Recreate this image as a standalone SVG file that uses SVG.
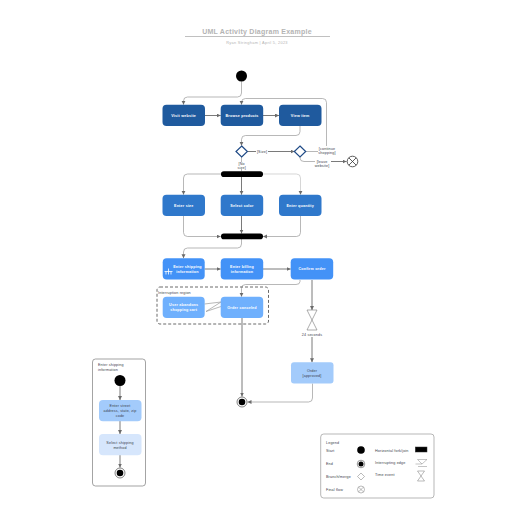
<svg xmlns="http://www.w3.org/2000/svg" width="516" height="516" viewBox="0 0 516 516">
<style>
text{font-family:"Liberation Sans",Arial,sans-serif;text-anchor:middle}
.t{font-size:3.700px;fill:#fff;font-weight:bold;letter-spacing:.2px}
.l{font-size:3.700px;fill:#3a414a;letter-spacing:.15px}
.ls{font-size:3.700px;fill:#3a414a;text-anchor:start;letter-spacing:.15px}
.c{fill:none;stroke:#6b6b6b;stroke-width:.9;marker-end:url(#a)}
.p{fill:none;stroke:#9a9a9a;stroke-width:.7;marker-end:url(#a)}
.lc{fill:none;stroke:#9a9a9a;stroke-width:.7}
.d1{fill:#1f5a9e}.d2{fill:#2f78cb}.d3{fill:#4392f7}.d4{fill:#6fb0fd}.d5{fill:#a3cbfb}.d6{fill:#d6e6fc}
</style>
<defs><marker id="a" markerUnits="userSpaceOnUse" markerWidth="5" markerHeight="5" refX="4" refY="2" orient="auto"><path d="M0 0L4 2L0 4Z" fill="#6b6b6b"/></marker></defs>
<text x="257" y="34" style="font-size:7px;fill:#b4b4b4;font-weight:bold;letter-spacing:.25px">UML Activity Diagram Example</text>
<path d="M185 36.500H330" stroke="#b0b0b0" stroke-width=".8"/>
<text x="257" y="43.500" style="font-size:3.900px;fill:#b4b4b4;letter-spacing:.3px">Ryan Stringham  |  April 5, 2023</text>
<g id="connectors">
<path class="p" d="M241.500 81.500V93Q241.500 97 237.500 97H187.500Q183.500 97 183.500 101V104.700"/>
<path class="c" d="M205 115.500H220.700"/>
<path class="c" d="M263 115.500H279"/>
<path class="p" d="M300 126V131.500Q300 135.500 296 135.500H245.500Q241.500 135.500 241.500 139.500V145.700"/>
<path class="c" d="M247.500 151.500H294.500"/>
<path class="lc" d="M306 151.500H326.500"/>
<path class="p" d="M326.500 146V102.500Q326.500 98.500 322.500 98.500H245.500Q241.500 98.500 241.500 102.500V104.700"/>
<path class="lc" d="M300 157V158Q300 161.500 304 161.500H315"/>
<path class="c" d="M331 161.500H346.500"/>
<path class="lc" d="M241.500 157V162"/>
<path class="lc" d="M241.500 169V171.300"/>
<path class="p" d="M221 174H187.500Q183.500 174 183.500 178V194.700"/>
<path class="c" d="M241.500 177V194.700"/>
<path class="p" d="M263 174H296.500Q300.500 174 300.500 178V194.700" style="stroke:#c4c4c4"/>
<path class="p" d="M183.500 216V232.500Q183.500 236.500 187.500 236.500H220.700"/>
<path class="c" d="M241.500 216V233.500"/>
<path class="p" d="M300.500 216V232.500Q300.500 236.500 296.500 236.500H263"/>
<path class="p" d="M241.500 239V244Q241.500 248 237.500 248H187.500Q183.500 248 183.500 252V258.300"/>
<path class="c" d="M204.500 269H220.700"/>
<path class="c" d="M263 269H290.700"/>
<path class="p" d="M300 280V281.500Q300 284.500 296 284.500H245.500Q241.500 284.500 241.500 288.500V296.700"/>
<path class="c" d="M312 280V310"/>
<path class="c" d="M312 337V362.300"/>
<path class="c" d="M242 318V396.500"/>
<path class="p" d="M312.500 383.500V398Q312.500 402 308.500 402H247.500"/>
<path class="lc" d="M204.500 304L221 302L206 311.500L221 306.500"/>
<path class="c" d="M120 386V400"/>
<path class="c" d="M120 421V434"/>
<path class="c" d="M120 455V467.500"/>
</g>
<g id="start"><circle cx="241.500" cy="76" r="5.500"/></g>
<g id="visit"><rect class="d1" x="162.500" y="104.700" width="42.500" height="21.300" rx="4"/><text class="t" x="183.700" y="116.700">Visit website</text></g>
<g id="browse"><rect class="d1" x="220.700" y="104.700" width="42.500" height="21.300" rx="4"/><text class="t" x="242" y="116.700">Browse products</text></g>
<g id="view"><rect class="d1" x="279" y="104.700" width="42.500" height="21.300" rx="4"/><text class="t" x="300.200" y="116.700">View item</text></g>
<g id="branch1"><path d="M241.700 146L247.400 151.500L241.700 157L236 151.500Z" fill="#fff" stroke="#1f4a86" stroke-width="1.200"/><text class="l" x="241.700" y="164.500">[No</text><text class="l" x="241.700" y="169">size]</text></g>
<g id="branch2"><path d="M300 146L305.700 151.500L300 157L294.300 151.500Z" fill="#fff" stroke="#1f4a86" stroke-width="1.200"/></g>
<rect x="256" y="149" width="12" height="5" fill="#fff"/><text class="l" x="262" y="152.800">[Size]</text>
<rect x="318" y="146.500" width="17" height="9" fill="#fff"/><text class="l" x="327" y="149.800">[continue</text><text class="l" x="327" y="154">shopping]</text>
<text class="l" x="322" y="163">[leave</text><text class="l" x="322" y="167.300">website]</text>
<g id="flowfinal"><circle cx="352.500" cy="161.500" r="5.300" fill="#fff" stroke="#333" stroke-width=".8"/><path d="M348.800 157.800L356.200 165.200M356.200 157.800L348.800 165.200" stroke="#333" stroke-width=".8"/></g>
<g id="fork"><rect x="221" y="171.300" width="42" height="5.700" rx="2.800"/></g>
<g id="size"><rect class="d2" x="162.500" y="194.700" width="42.500" height="21.300" rx="4"/><text class="t" x="183.700" y="206.700">Enter size</text></g>
<g id="color"><rect class="d2" x="220.700" y="194.700" width="42.500" height="21.300" rx="4"/><text class="t" x="242" y="206.700">Select color</text></g>
<g id="quantity"><rect class="d2" x="279" y="194.700" width="42.500" height="21.300" rx="4"/><text class="t" x="300.200" y="206.700">Enter quantity</text></g>
<g id="join"><rect x="221" y="233.500" width="42" height="5.700" rx="2.800"/></g>
<g id="shipping"><rect class="d3" x="162.700" y="258.300" width="42" height="21.300" rx="4"/><text class="t" x="187.500" y="268">Enter shipping</text><text class="t" x="187.500" y="273">information</text><path d="M164.500 271.500H172.500M166 271.500V274.500M168.500 268.500V274.500M171 271.500V274.500" stroke="#fff" fill="none" stroke-width=".8"/></g>
<g id="billing"><rect class="d3" x="220.700" y="258.300" width="42.500" height="21.300" rx="4"/><text class="t" x="242" y="268">Enter billing</text><text class="t" x="242" y="273">information</text></g>
<g id="confirm"><rect class="d3" x="290.700" y="258.300" width="42.500" height="21.300" rx="4"/><text class="t" x="312" y="270.300">Confirm order</text></g>
<g id="region"><rect x="157" y="287" width="111.500" height="37" rx="3" fill="none" stroke="#444" stroke-width=".8" stroke-dasharray="3 2"/><text class="ls" x="158" y="294">Interruption region</text></g>
<g id="abandon"><rect class="d4" x="162.700" y="296.700" width="42" height="21.300" rx="4"/><text class="t" x="183.700" y="305.500">User abandons</text><text class="t" x="183.700" y="311">shopping cart</text></g>
<g id="canceled"><rect class="d4" x="220.700" y="296.700" width="42.500" height="21.300" rx="4"/><text class="t" x="242" y="308.500">Order canceled</text></g>
<g id="timer"><path d="M307 310H317L307 330H317Z" fill="#fff" stroke="#777" stroke-width=".6"/><text class="l" x="312" y="335.500">24 seconds</text></g>
<g id="approved"><rect class="d5" x="291" y="362.300" width="42.500" height="21.300" rx="3"/><text class="l" x="312" y="371.500">Order</text><text class="l" x="312" y="377">[approved]</text></g>
<g id="end"><circle cx="242" cy="402" r="5" fill="#fff" stroke="#333" stroke-width=".6"/><circle cx="242" cy="402" r="3.300"/></g>
<g id="lane"><rect x="92.500" y="359" width="53" height="127" rx="3" fill="none" stroke="#666" stroke-width=".6"/><text class="ls" x="98" y="366">Enter shipping</text><text class="ls" x="98" y="371">information</text></g>
<g id="start2"><circle cx="120" cy="380.500" r="5.500"/></g>
<g id="address"><rect class="d5" x="99" y="400" width="42.500" height="21.300" rx="4"/><text class="l" x="120" y="406.500">Enter street</text><text class="l" x="120" y="411.500">address, state, zip</text><text class="l" x="120" y="416.500">code</text></g>
<g id="method"><rect class="d6" x="99" y="434" width="42.500" height="21.300" rx="4"/><text class="l" x="120" y="443.500">Select shipping</text><text class="l" x="120" y="448.500">method</text></g>
<g id="end2"><circle cx="120" cy="473" r="5" fill="#fff" stroke="#333" stroke-width=".6"/><circle cx="120" cy="473" r="3.300"/></g>
<g id="legend"><rect x="320.700" y="434" width="113.300" height="64" rx="3" fill="#fff" stroke="#888" stroke-width=".6"/>
<text class="ls" x="326" y="444">Legend</text><text class="ls" x="326" y="452">Start</text><text class="ls" x="326" y="465">End</text><text class="ls" x="326" y="478">Branch/merge</text><text class="ls" x="326" y="491">Final flow</text>
<text class="ls" x="375" y="451.500">Horizontal fork/join</text><text class="ls" x="375" y="464">Interrupting edge</text><text class="ls" x="375" y="476">Time event</text>
<circle cx="361" cy="450" r="3.800"/><circle cx="361" cy="464" r="3.800" fill="#fff" stroke="#333" stroke-width=".5"/><circle cx="361" cy="464" r="2.500"/>
<path d="M361 473L364.500 476.500L361 480L357.500 476.500Z" fill="#fff" stroke="#777" stroke-width=".5"/>
<circle cx="361" cy="489.500" r="3.500" fill="#fff" stroke="#777" stroke-width=".5"/><path d="M358.700 487.200L363.300 491.800M363.300 487.200L358.700 491.800" stroke="#777" stroke-width=".5"/>
<rect x="415.300" y="447" width="11.700" height="5" stroke="#333" stroke-width=".5"/>
<path d="M415.500 464H422L427 459.500M418 466.500H427" fill="none" stroke="#888" stroke-width=".5"/><path d="M427 459.500H417.500L422 464" fill="none" stroke="#888" stroke-width=".5"/>
<path d="M417.500 471H424.500L417.500 481H424.500Z" fill="#fff" stroke="#777" stroke-width=".5"/></g>
</svg>
